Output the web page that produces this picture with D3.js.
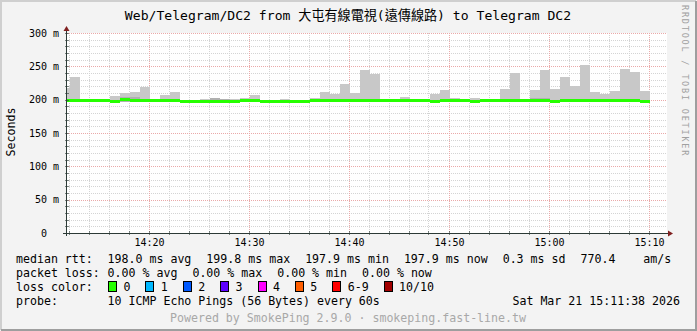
<!DOCTYPE html>
<html lang="en">
<head>
<meta charset="UTF-8">
<title>SmokePing</title>
<script src="https://d3js.org/d3.v7.min.js"></script>
<style>
body { margin: 0; background: #f3f3f3; }
svg { display: block; }
text { font-family: "DejaVu Sans Mono", "Noto Sans CJK TC", monospace; fill: #000; }
</style>
</head>
<body>
<svg width="697" height="331"></svg>
<script>
var title = 'Web/Telegram/DC2 from 大屯有線電視(遠傳線路) to Telegram DC2';
var firstMinute = new Date(2026, 2, 21, 14, 11);
// one value per minute, ms
var smokeMax = [218, 234, 200, 200, 201, 205.5, 210, 211.5, 219, 200,
    207, 211.5, 200, 200, 201, 202.5, 201, 201, 202, 207,
    200, 200, 201, 200, 200, 202, 211.5, 208.5, 223.5, 210,
    244.5, 238.5, 201, 201, 204, 200, 201, 208.5, 214.5, 202,
    201, 202, 200.5, 200.5, 216, 240, 200, 214.5, 244.5, 216,
    234, 220.5, 252, 211.5, 208.5, 213, 246, 241.5, 213];
var smokeDark = [200, 200, 199, 199, 199, 200, 204, 204, 200, 199,
    200, 200, 199, 199, 200, 202.5, 201, 200, 201, 200,
    199, 199, 200, 199, 199, 200, 200, 200, 200, 200,
    200, 200, 200, 200, 200, 199, 200, 200, 200, 201,
    200, 200, 199, 199, 200, 200, 199, 202, 202, 200,
    200, 200, 201, 201, 200, 200, 201, 200, 200];
var smokeMin = [197.2, 197.1, 197.3, 197.2, 197.2, 196.9, 196.8, 197.2, 197.3, 197.2,
    197.1, 197.3, 196.9, 196.9, 197.0, 196.8, 196.9, 197.0, 197.2, 197.3,
    196.9, 196.8, 196.9, 197.0, 196.9, 197.2, 197.3, 197.1, 197.2, 197.3,
    197.2, 197.1, 197.2, 197.3, 197.2, 197.1, 197.2, 196.9, 197.2, 197.3,
    197.2, 196.9, 197.1, 197.2, 197.3, 197.2, 197.1, 197.2, 197.3, 196.9,
    197.2, 197.1, 197.2, 197.3, 197.2, 197.1, 197.2, 197.3, 197.2];
var medianRtt = [198.2, 198.2, 198.2, 198.2, 198.2, 197.6, 199.8, 198.2, 198.2, 198.2,
    198.2, 198.2, 197.6, 197.6, 197.6, 197.6, 197.6, 197.6, 198.2, 198.2,
    197.6, 197.6, 197.6, 197.6, 197.6, 198.2, 198.2, 198.2, 198.2, 198.2,
    198.2, 198.2, 198.2, 198.2, 198.2, 198.2, 198.2, 197.6, 198.2, 198.2,
    198.2, 197.6, 198.2, 198.2, 198.2, 198.2, 198.2, 198.2, 198.6, 197.6,
    198.2, 198.2, 198.2, 198.2, 198.2, 198.2, 198.2, 198.2, 197.9];
var yTicks = [0, 50, 100, 150, 200, 250, 300];
var medianStats = ['198.0 ms avg', '199.8 ms max', '197.9 ms min', '197.9 ms now', '0.3 ms sd', '770.4    am/s'];
var lossStats = ['0.00 % avg', '0.00 % max', '0.00 % min', '0.00 % now'];
var lossLabels = ['0', '1', '2', '3', '4', '5', '6-9', '10/10'];
var lossColors = ['#26ff00', '#00b8ff', '#0059ff', '#5e00ff', '#ff00ff', '#ff5e00', '#ff0000', '#a10000'];
var probeText = '10 ICMP Echo Pings (56 Bytes) every 60s';
var stampText = 'Sat Mar 21 15:11:38 2026';
var footer = 'Powered by SmokePing 2.9.0 · smokeping.fast-line.tw';

var svg = d3.select('svg');
var W = 697, H = 331;
var pLeft = 67, pRight = 667, pTop = 33, pBottom = 233;

var x = d3.scaleTime()
    .domain([new Date(2026, 2, 21, 14, 11, 45), new Date(2026, 2, 21, 15, 11, 45)])
    .range([pLeft, pRight]);
var y = d3.scaleLinear().domain([0, 300]).range([pBottom, pTop]);

function minute(i) { return d3.timeMinute.offset(firstMinute, i); }

// frame
svg.append('rect').attr('width', W).attr('height', H).attr('fill', '#f3f3f3');
svg.append('path').attr('d', 'M1,' + (H - 1) + 'V1H' + (W - 1)).attr('fill', 'none').attr('stroke', '#cfcfcf').attr('stroke-width', 2);
svg.append('path').attr('d', 'M1,' + (H - 1) + 'H' + (W - 1) + 'V1').attr('fill', 'none').attr('stroke', '#9e9e9e').attr('stroke-width', 2);

svg.append('rect').attr('x', pLeft).attr('y', pTop).attr('width', pRight - pLeft).attr('height', pBottom - pTop).attr('fill', '#fff');

svg.append('clipPath').attr('id', 'plot').append('rect')
    .attr('x', pLeft).attr('y', pTop).attr('width', pRight - pLeft).attr('height', pBottom - pTop);

// grid
var g = svg.append('g').attr('shape-rendering', 'crispEdges');
var minorY = d3.range(10, 301, 10).filter(function(v) { return v % 50 !== 0; });
g.selectAll('.hmin').data(minorY).enter().append('line')
    .attr('x1', pLeft).attr('x2', pRight)
    .attr('y1', function(d) { return Math.round(y(d)) + 0.5; })
    .attr('y2', function(d) { return Math.round(y(d)) + 0.5; })
    .attr('stroke', '#d4d4d4').attr('stroke-dasharray', '1,1');
var minorX = d3.timeMinute.every(2).range(x.domain()[0], x.domain()[1]).filter(function(d) { return d.getMinutes() % 10 !== 0; });
g.selectAll('.vmin').data(minorX).enter().append('line')
    .attr('y1', pTop).attr('y2', pBottom)
    .attr('x1', function(d) { return Math.round(x(d)) - 0.5; })
    .attr('x2', function(d) { return Math.round(x(d)) - 0.5; })
    .attr('stroke', '#d4d4d4').attr('stroke-dasharray', '1,1');
g.selectAll('.hmaj').data(yTicks.slice(1)).enter().append('line')
    .attr('x1', pLeft).attr('x2', pRight)
    .attr('y1', function(d) { return Math.round(y(d)) + 0.5; })
    .attr('y2', function(d) { return Math.round(y(d)) + 0.5; })
    .attr('stroke', '#eaa9a9').attr('stroke-dasharray', '1,1');
var majorX = d3.timeMinute.every(10).range(x.domain()[0], x.domain()[1]);
g.selectAll('.vmaj').data(majorX).enter().append('line')
    .attr('y1', pTop).attr('y2', pBottom)
    .attr('x1', function(d) { return Math.round(x(d)) - 0.5; })
    .attr('x2', function(d) { return Math.round(x(d)) - 0.5; })
    .attr('stroke', '#eaa9a9').attr('stroke-dasharray', '1,1');

// smoke
var plot = svg.append('g').attr('clip-path', 'url(#plot)').attr('shape-rendering', 'crispEdges');
plot.selectAll('.smoke').data(smokeMax).enter().append('rect')
    .attr('x', function(d, i) { return x(minute(i)); })
    .attr('width', function(d, i) { return x(minute(i + 1)) - x(minute(i)); })
    .attr('y', function(d) { return y(d); })
    .attr('height', function(d, i) { return y(smokeMin[i]) - y(d); })
    .attr('fill', '#c8c8c8');
plot.selectAll('.dark').data(smokeDark).enter().append('rect')
    .attr('x', function(d, i) { return x(minute(i)); })
    .attr('width', function(d, i) { return x(minute(i + 1)) - x(minute(i)); })
    .attr('y', function(d) { return y(d); })
    .attr('height', function(d, i) { return Math.max(0, y(smokeMin[i]) - y(d)); })
    .attr('fill', '#b0b0b0');
plot.selectAll('.median').data(medianRtt).enter().append('rect')
    .attr('x', function(d, i) { return x(minute(i)); })
    .attr('width', function(d, i) { return x(minute(i + 1)) - x(minute(i)); })
    .attr('y', function(d) { return y(d) - 1.5; })
    .attr('height', 3)
    .attr('fill', lossColors[0]);

// axes
var axisColor = '#2c3a36';
var ax = svg.append('g').attr('shape-rendering', 'crispEdges');
ax.selectAll('.ytick').data(minorY.concat(yTicks.slice(1))).enter().append('line')
    .attr('x1', pLeft - 2).attr('x2', pLeft + 2)
    .attr('y1', function(d) { return Math.round(y(d)) + 0.5; })
    .attr('y2', function(d) { return Math.round(y(d)) + 0.5; })
    .attr('stroke', axisColor).attr('stroke-opacity', 0.6);
ax.selectAll('.xtick').data(minorX.concat(majorX)).enter().append('line')
    .attr('y1', pBottom - 2).attr('y2', pBottom + 2)
    .attr('x1', function(d) { return Math.round(x(d)) - 0.5; })
    .attr('x2', function(d) { return Math.round(x(d)) - 0.5; })
    .attr('stroke', axisColor).attr('stroke-opacity', 0.6);
ax.append('line').attr('x1', pLeft - 0.5).attr('x2', pLeft - 0.5).attr('y1', pBottom + 3).attr('y2', pTop - 3)
    .attr('stroke', axisColor);
ax.append('line').attr('x1', pLeft - 4).attr('x2', pRight + 2).attr('y1', pBottom + 0.5).attr('y2', pBottom + 0.5)
    .attr('stroke', axisColor);
svg.append('path').attr('d', 'M' + (pLeft - 3.5) + ',' + (pTop - 2) + 'L' + (pLeft - 0.5) + ',' + (pTop - 7) + 'L' + (pLeft + 2.5) + ',' + (pTop - 2) + 'Z')
    .attr('fill', '#7f1f1f');
svg.append('path').attr('d', 'M' + (pRight + 1) + ',' + (pBottom - 2.5) + 'L' + (pRight + 6) + ',' + (pBottom + 0.5) + 'L' + (pRight + 1) + ',' + (pBottom + 3.5) + 'Z')
    .attr('fill', '#7f1f1f');

// axis labels
svg.selectAll('.ylab').data(yTicks).enter().append('text')
    .attr('xml:space', 'preserve')
    .attr('x', 59).attr('y', function(d) { return y(d) + 3.5; })
    .attr('text-anchor', 'end').attr('font-size', '10px')
    .text(function(d) { return d === 0 ? '0  ' : d + ' m'; });
svg.selectAll('.xlab').data(majorX).enter().append('text')
    .attr('x', function(d) { return x(d); }).attr('y', 246)
    .attr('text-anchor', 'middle').attr('font-size', '10px')
    .text(d3.timeFormat('%H:%M'));

svg.append('text').attr('transform', 'translate(14.5,132) rotate(-90)')
    .attr('text-anchor', 'middle').attr('font-size', '11.6px').text('Seconds');
svg.append('text').attr('x', 348).attr('y', 19.5).attr('text-anchor', 'middle')
    .attr('font-size', '13.1px').text(title);
svg.append('text').attr('transform', 'translate(682,5) rotate(90)')
    .attr('font-size', '8.5px').attr('letter-spacing', '1.8px').style('fill', '#a0a0a0')
    .text('RRDTOOL / TOBI OETIKER');

// legend
var lx = 16, vx = 107.6, gap = 15, fs = '11.6px';
function legendRow(label, items, yy) {
    svg.append('text').attr('x', lx).attr('y', yy).attr('font-size', fs).text(label);
    var cx = vx;
    items.forEach(function(s) {
        var t = svg.append('text').attr('xml:space', 'preserve').attr('x', cx).attr('y', yy).attr('font-size', fs).text(s);
        cx += t.node().getComputedTextLength() + gap;
    });
}
legendRow('median rtt:', medianStats, 263);
legendRow('packet loss:', lossStats, 277);

svg.append('text').attr('x', lx).attr('y', 291).attr('font-size', fs).text('loss color:');
var bx = 108;
lossLabels.forEach(function(l, i) {
    svg.append('rect').attr('x', bx + 0.5).attr('y', 281.5).attr('width', 8).attr('height', 10)
        .attr('fill', lossColors[i]).attr('stroke', '#000').attr('shape-rendering', 'crispEdges');
    var t = svg.append('text').attr('x', bx + 15.4).attr('y', 291).attr('font-size', fs).text(l);
    bx += 15.4 + t.node().getComputedTextLength() + gap;
});

legendRow('probe:', [probeText], 305);
svg.append('text').attr('x', 680).attr('y', 305).attr('text-anchor', 'end').attr('font-size', fs).text(stampText);
svg.append('text').attr('x', 348).attr('y', 322).attr('text-anchor', 'middle').attr('font-size', fs)
    .style('fill', '#a8a8a8').text(footer);
</script>
</body>
</html>
